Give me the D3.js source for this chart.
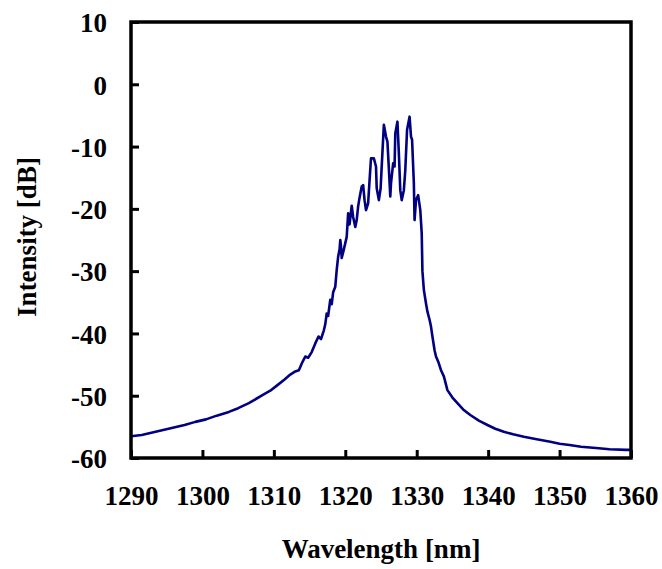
<!DOCTYPE html>
<html>
<head>
<meta charset="utf-8">
<script src="https://cdn.jsdelivr.net/npm/d3@7"></script>
<style>
  html, body { margin: 0; padding: 0; background: #fff; }
  svg { display: block; }
  text { font-family: "Liberation Serif", "Times New Roman", serif; font-weight: bold; fill: #000; }
</style>
</head>
<body>
<script>
const wavelength = [
  1290.0, 1291.5, 1293.0, 1294.5, 1296.0, 1297.5, 1299.0, 1300.5, 1302.0, 1303.7,
  1305.0, 1306.5, 1308.4, 1309.5, 1310.5, 1311.5, 1312.3, 1313.0, 1313.5, 1314.0,
  1314.4, 1314.8, 1315.3, 1315.8, 1316.25, 1316.6, 1317.0, 1317.2, 1317.4, 1317.6,
  1317.9, 1318.1, 1318.3, 1318.6, 1318.8, 1319.0, 1319.2, 1319.3, 1319.4, 1319.5,
  1319.8, 1320.2, 1320.4, 1320.6, 1320.9, 1321.1, 1321.4, 1321.6, 1321.8, 1322.0,
  1322.3, 1322.5, 1322.7, 1322.9, 1323.2, 1323.4, 1323.6, 1324.0, 1324.3, 1324.4,
  1324.7, 1324.95, 1325.05, 1325.4, 1325.7, 1325.9, 1326.1, 1326.3, 1326.4, 1326.7,
  1326.9, 1327.0, 1327.3, 1327.5, 1327.7, 1327.9, 1328.2, 1328.4, 1328.65, 1329.0,
  1329.2, 1329.35, 1329.6, 1329.7, 1329.9, 1330.2, 1330.5, 1330.7, 1330.8, 1331.0,
  1331.3, 1331.5, 1331.8, 1332.0, 1332.2, 1332.5, 1332.7, 1333.0, 1333.4, 1333.8,
  1334.3, 1335.0, 1335.7, 1336.5, 1337.5, 1338.7, 1339.9, 1341.0, 1342.2, 1343.5,
  1345.0, 1346.8, 1348.7, 1350.0, 1351.4, 1353.0, 1355.1, 1357.0, 1359.3, 1360.0
];
const intensity = [
  -56.5, -56.3, -55.9, -55.5, -55.1, -54.7, -54.2, -53.8, -53.2, -52.6,
  -52.0, -51.2, -49.9, -49.2, -48.3, -47.4, -46.6, -46.1, -45.9, -44.6,
  -43.7, -43.9, -43.0, -41.6, -40.5, -40.9, -39.5, -38.5, -36.8, -37.2,
  -34.6, -35.3, -33.4, -32.5, -29.8, -27.7, -26.5, -25.0, -26.0, -27.9,
  -26.5, -24.5, -20.7, -22.5, -19.5, -21.3, -22.9, -21.8, -19.6, -18.2,
  -16.4, -16.2, -18.6, -20.2, -19.1, -15.4, -11.9, -11.9, -13.2, -16.7,
  -18.6, -16.7, -14.3, -6.5, -8.4, -9.2, -13.5, -18.0, -15.9, -12.7,
  -13.2, -7.9, -6.0, -11.1, -17.0, -18.6, -17.0, -13.8, -7.3, -5.2,
  -8.4, -8.9, -15.9, -21.8, -18.6, -17.8, -20.2, -23.9, -30.0, -33.0,
  -35.2, -36.5, -37.8, -38.9, -40.5, -42.7, -43.7, -44.5, -45.9, -46.9,
  -49.1, -50.3, -51.2, -52.2, -53.1, -54.0, -54.7, -55.3, -55.8, -56.2,
  -56.6, -57.0, -57.4, -57.7, -57.9, -58.2, -58.4, -58.6, -58.7, -58.7
];
const xTicks = [1290, 1300, 1310, 1320, 1330, 1340, 1350, 1360];
const yTicks = [10, 0, -10, -20, -30, -40, -50, -60];

const W = 662, H = 569;
const m = { left: 131, right: 662 - 631, top: 22, bottom: 569 - 458 };

const svg = d3.select("body").append("svg").attr("width", W).attr("height", H);

const x = d3.scaleLinear().domain([1290, 1360]).range([m.left, W - m.right]);
const y = d3.scaleLinear().domain([-60, 10]).range([H - m.bottom, m.top]);

const data = wavelength.map((w, i) => [w, intensity[i]]);

// curve
svg.append("path")
  .datum(data)
  .attr("fill", "none")
  .attr("stroke", "#000080")
  .attr("stroke-width", 2.6)
  .attr("stroke-linejoin", "round")
  .attr("d", d3.line().x(d => x(d[0])).y(d => y(d[1])));

// axes (ticks inside)
const xAxis = svg.append("g")
  .attr("transform", `translate(0,${H - m.bottom})`)
  .call(d3.axisBottom(x).tickValues(xTicks).tickSize(-8).tickPadding(28).tickFormat(d3.format("d")));
const yAxis = svg.append("g")
  .attr("transform", `translate(${m.left},0)`)
  .call(d3.axisLeft(y).tickValues(yTicks).tickSize(-8).tickPadding(24).tickFormat(d3.format("d")));

[xAxis, yAxis].forEach(g => {
  g.select(".domain").remove();
  g.selectAll(".tick line").attr("stroke", "#000").attr("stroke-width", 3);
  g.selectAll(".tick text")
    .style("font-family", '"Liberation Serif", "Times New Roman", serif')
    .style("font-weight", "bold")
    .style("font-size", "27px")
    .attr("fill", "#000");
});
yAxis.selectAll(".tick text").attr("dy", "0.36em").text(d => d < 0 ? "-" + Math.abs(d) : d);

// frame
svg.append("rect")
  .attr("x", m.left).attr("y", m.top)
  .attr("width", W - m.left - m.right).attr("height", H - m.top - m.bottom)
  .attr("fill", "none").attr("stroke", "#000").attr("stroke-width", 3.5);

// axis titles
svg.append("text")
  .attr("x", 381).attr("y", 558)
  .attr("text-anchor", "middle")
  .style("font-size", "27px")
  .text("Wavelength [nm]");
svg.append("text")
  .attr("transform", "translate(36,237) rotate(-90)")
  .attr("text-anchor", "middle")
  .style("font-size", "27px")
  .text("Intensity [dB]");
</script>
</body>
</html>
